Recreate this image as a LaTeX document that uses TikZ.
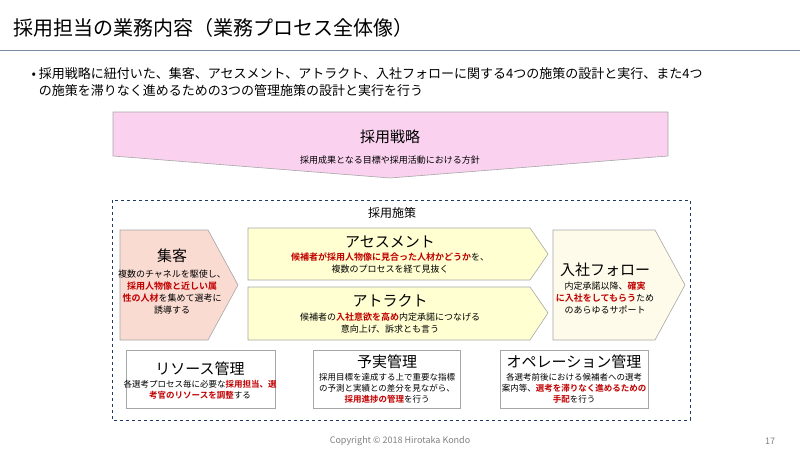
\documentclass[tikz,border=0pt]{standalone}
\usepackage{fontspec}
\setmainfont{Noto Sans CJK JP}[BoldFont={Noto Sans CJK JP Bold}]
\usetikzlibrary{positioning}
\definecolor{hl}{HTML}{C00000}
\definecolor{pinkfill}{HTML}{FAD2F0}
\definecolor{salmon}{HTML}{FADBD2}
\definecolor{paleyel}{HTML}{FFFFD2}
\definecolor{cream}{HTML}{FFFBEA}
\definecolor{framebl}{HTML}{1F3C64}
\newcommand{\hlt}[1]{\textcolor{hl}{\bfseries #1}}

\begin{document}
\begin{tikzpicture}[x=1pt,y=-1pt,
    panel/.style={draw=gray!70, line width=0.6pt},
    head/.style={font=\fontsize{15}{17}\selectfont},
    body/.style={font=\fontsize{9}{12}\selectfont, align=center}]
    \useasboundingbox (0,0) rectangle (800,450);

    % Title and lead text
    \node[anchor=west, font=\fontsize{20}{24}\selectfont] (title) at (10,28) {採用担当の業務内容（業務プロセス全体像）};
    \draw[color=framebl!60, line width=1pt] (0,50) -- (800,50);
    \node[anchor=north west, align=left, font=\fontsize{13}{17}\selectfont] (lead) at (28,64)
        {• 採用戦略に紐付いた、集客、アセスメント、アトラクト、入社フォローに関する4つの施策の設計と実行、また4つ\\
         \hphantom{• }の施策を滞りなく進めるための3つの管理施策の設計と実行を行う};

    % Strategy chevron
    \draw[panel, fill=pinkfill] (113,112) -- (668,112) -- (668,156) -- (390,178) -- (113,156) -- cycle;
    \node[head] (strat) at (390,137) {採用戦略};
    \node[body] (stratsub) at (390,160) {採用成果となる目標や採用活動における方針};

    % Measures frame
    \draw[color=framebl, dashed, line width=0.8pt] (112,200) rectangle (690,420);
    \node[font=\fontsize{12}{14}\selectfont] (measures) at (392,213) {採用施策};

    % Attraction of candidates
    \draw[panel, fill=salmon] (120,230) -- (208,230) -- (238,285) -- (208,340) -- (120,340) -- cycle;
    \node[head] (shuukyaku) at (172,256) {集客};
    \node[body, below=0pt of shuukyaku] (shuukyakusub)
        {複数のチャネルを駆使し、\\ \hlt{採用人物像と近しい属}\\ \hlt{性の人材}を集めて選考に\\ 誘導する};

    % Assessment
    \draw[panel, fill=paleyel] (248,228) -- (530,228) -- (548,254) -- (530,280) -- (248,280) -- cycle;
    \node[head] (assess) at (390,242) {アセスメント};
    \node[body, below=-2pt of assess] (assesssub)
        {\hlt{候補者が採用人物像に見合った人材かどうか}を、\\ 複数のプロセスを経て見抜く};

    % Attract
    \draw[panel, fill=paleyel] (248,287) -- (530,287) -- (548,313) -- (530,340) -- (248,340) -- cycle;
    \node[head] (attract) at (390,301) {アトラクト};
    \node[body, below=-2pt of attract] (attractsub)
        {候補者の\hlt{入社意欲を高め}内定承諾につなげる\\ 意向上げ、訴求とも言う};

    % Onboarding follow
    \draw[panel, fill=cream] (553,230) -- (655,230) -- (685,285) -- (655,340) -- (553,340) -- cycle;
    \node[head] (follow) at (605,270) {入社フォロー};
    \node[body, below=-2pt of follow] (followsub)
        {内定承諾以降、\hlt{確実}\\ \hlt{に入社をしてもらう}ため\\ のあらゆるサポート};

    % Management boxes
    \draw[panel] (126,350) rectangle (275,408);
    \node[head] (resource) at (200,369) {リソース管理};
    \node[body, below=-3pt of resource, font=\fontsize{8.5}{11}\selectfont] (resourcesub)
        {各選考プロセス毎に必要な\hlt{採用担当、選}\\ \hlt{考官のリソースを調整}する};

    \draw[panel] (313,350) rectangle (460,408);
    \node[head] (budget) at (387,362) {予実管理};
    \node[body, below=-3pt of budget, font=\fontsize{8.5}{11}\selectfont] (budgetsub)
        {採用目標を達成する上で重要な指標\\ の予測と実績との差分を見ながら、\\ \hlt{採用進捗の管理}を行う};

    \draw[panel] (500,350) rectangle (648,408);
    \node[head] (ops) at (574,362) {オペレーション管理};
    \node[body, below=-3pt of ops, font=\fontsize{8.5}{11}\selectfont] (opssub)
        {各選考前後における候補者への選考\\ 案内等、\hlt{選考を滞りなく進めるための}\\ \hlt{手配}を行う};

    % Footer
    \node[text=gray, font=\fontsize{9}{11}\selectfont] (copy) at (400,441) {Copyright © 2018 Hirotaka Kondo};
    \node[text=gray, font=\fontsize{9}{11}\selectfont] (page) at (770,441) {17};
\end{tikzpicture}
\end{document}
